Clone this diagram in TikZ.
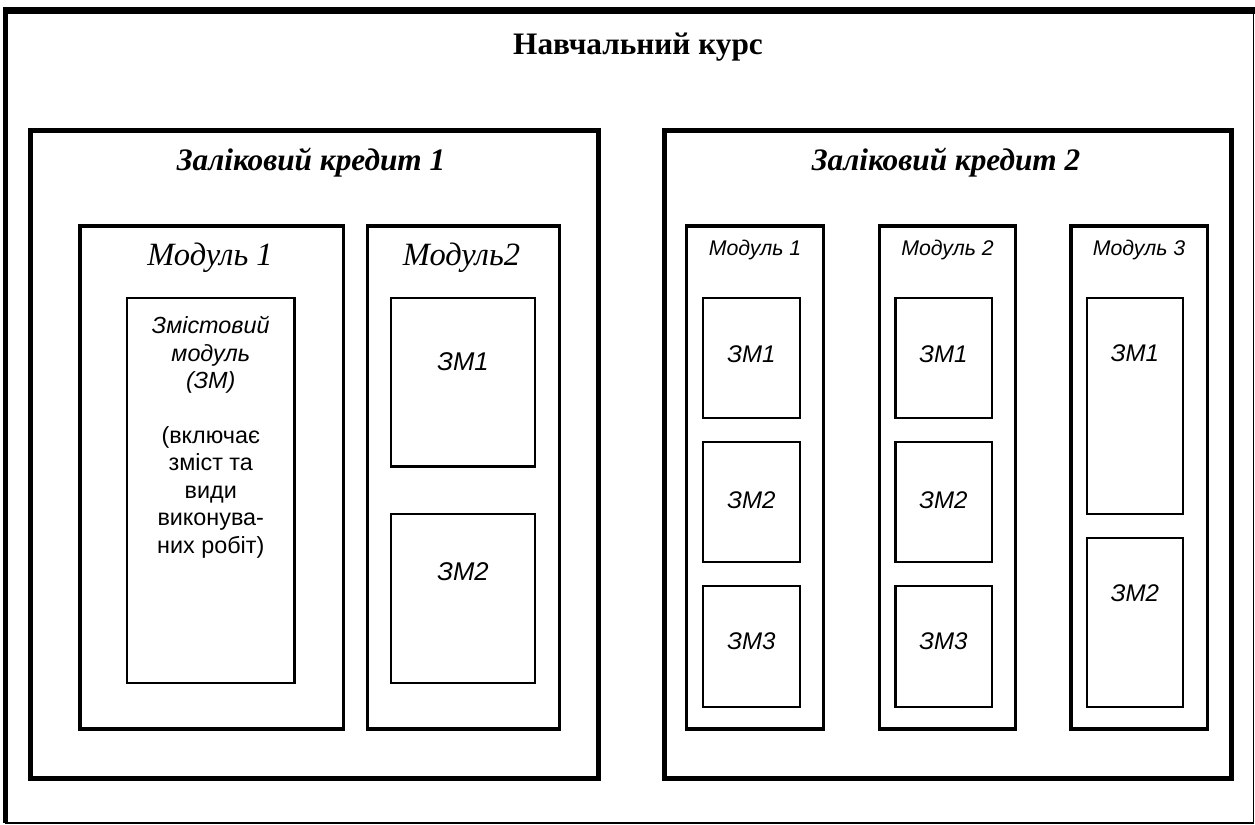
\documentclass[tikz,border=0pt]{standalone}
\usepackage{fontspec}
\setmainfont{Liberation Serif}
\setsansfont{Liberation Sans}
\begin{document}
\begin{tikzpicture}[x=0.02cm,y=-0.02cm,
 frame/.style={line width=1.1pt},
 credit/.style={line width=2.8pt},
 modul/.style={line width=2pt},
 zmbox/.style={line width=1.3pt},
 coursetitle/.style={font=\fontsize{17.8}{21}\selectfont\bfseries},
 credittitle/.style={font=\fontsize{17.8}{21}\selectfont\bfseries\itshape},
 bigmod/.style={font=\fontsize{18.5}{22}\selectfont\itshape},
 smallmod/.style={font=\sffamily\fontsize{12.1}{14}\selectfont\itshape},
 zmlabel/.style={font=\sffamily\fontsize{13.7}{16}\selectfont\itshape},
 bigzmlabel/.style={font=\sffamily\fontsize{14.6}{17}\selectfont\itshape}]
 \useasboundingbox (0,0) rectangle (1255,825);
 \draw[frame] (5.5,10.5) rectangle (1253.5,823);
 \draw[line width=3.1pt] (5.5,7)--(5.5,823);
 \draw[line width=4pt] (3,10.5)--(1255,10.5);
 \node[coursetitle] (course) at (638,47) {Навчальний курс};
 \draw[credit] (30.5,130.5) rectangle (598.5,778.5);
 \draw[credit] (664.5,130.5) rectangle (1231.5,778.5);
 \node[credittitle] (credA) at (311,163) {Заліковий кредит 1};
 \node[credittitle] (credB) at (946,163) {Заліковий кредит 2};
 \draw[modul] (80,226) rectangle (343.5,729);
 \draw[modul] (367.5,226) rectangle (559.5,729);
 \node[bigmod] (modA1) at (210,258) {Модуль 1};
 \node[bigmod] (modA2) at (461.5,258) {Модуль2};
 \draw[zmbox] (127,298) rectangle (294.5,683);
 \node[anchor=base,align=center,font=\sffamily\fontsize{13.3}{15.6}\selectfont] (zm) at (210.75,553)
  {\textit{Змістовий}\\\textit{модуль}\\\textit{(ЗМ)}\\[15.6pt](включає\\зміст та\\види\\виконува\char"2D\\них робіт)};
 \draw[zmbox] (391,298) rectangle (535,466.5);
 \draw[zmbox] (391,514) rectangle (535,683);
 \node[bigzmlabel] (zmA1) at (463,362) {ЗМ1};
 \node[bigzmlabel] (zmA2) at (463,572) {ЗМ2};
 \draw[modul] (686.5,226) rectangle (823.5,729);
 \draw[modul] (879.5,226) rectangle (1015.5,729);
 \draw[modul] (1071,226) rectangle (1207.5,729);
 \node[smallmod] (modB1) at (755,250) {Модуль 1};
 \node[smallmod] (modB2) at (947.5,250) {Модуль 2};
 \node[smallmod] (modB3) at (1139,250) {Модуль 3};
 \draw[zmbox] (703,298) rectangle (800,418);
 \draw[zmbox] (703,442) rectangle (800,562);
 \draw[zmbox] (703,586) rectangle (800,707);
 \draw[zmbox] (895.5,298) rectangle (992,418);
 \draw[zmbox] (895.5,442) rectangle (992,562);
 \draw[zmbox] (895.5,586) rectangle (992,707);
 \draw[zmbox] (1087,298) rectangle (1183,514);
 \draw[zmbox] (1087,538) rectangle (1183,707);
 \node[zmlabel] (zmB11) at (751.5,354) {ЗМ1};
 \node[zmlabel] (zmB12) at (751.5,500) {ЗМ2};
 \node[zmlabel] (zmB13) at (751.5,641) {ЗМ3};
 \node[zmlabel] (zmB21) at (943.5,354) {ЗМ1};
 \node[zmlabel] (zmB22) at (943.5,500) {ЗМ2};
 \node[zmlabel] (zmB23) at (943.5,641) {ЗМ3};
 \node[zmlabel] (zmB31) at (1135,353) {ЗМ1};
 \node[zmlabel] (zmB32) at (1135,593) {ЗМ2};
\end{tikzpicture}
\end{document}
